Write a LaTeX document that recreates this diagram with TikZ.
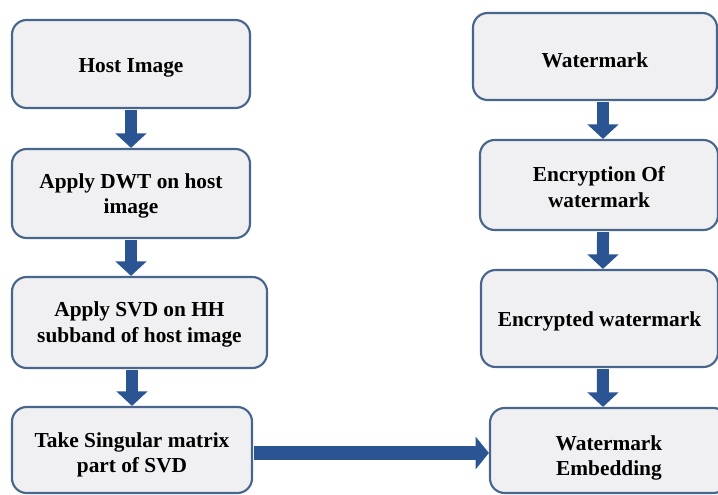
\documentclass[tikz,border=0pt]{standalone}
\usepackage{fontspec}
\setmainfont{Liberation Serif}
\usetikzlibrary{arrows.meta}
\definecolor{boxfill}{HTML}{F0F0F2}
\definecolor{boxline}{HTML}{48658C}
\definecolor{flow}{HTML}{2A5592}
\tikzset{
  stepbox/.style={draw=boxline, line width=1.6pt, fill=boxfill, rounded corners=11pt,
    inner sep=0pt},
  steptext/.style={align=center, inner sep=0pt,
    font=\fontsize{16}{19}\selectfont\bfseries},
  varrow/.style={draw=flow, line width=9pt,
    -{Triangle[width=23pt, length=11pt]}, shorten <=0.8pt},
  harrow/.style={draw=flow, line width=10pt,
    -{Triangle[width=24pt, length=10pt]}, shorten <=0.8pt}
}
\begin{document}
\begin{tikzpicture}[x=0.75pt, y=-0.75pt]
  \useasboundingbox (0,0) rectangle (718,495);

  % left column: host image processing
  \node[stepbox, minimum width=178.5pt, minimum height=66pt] (host) at (131,64) {};
  \node[stepbox, minimum width=178.5pt, minimum height=66.75pt] (dwt) at (131,193.5) {};
  \node[stepbox, minimum width=191.25pt, minimum height=68.25pt] (svd) at (139.5,322.5) {};
  \node[stepbox, minimum width=180pt, minimum height=64.5pt] (take) at (132,450) {};

  \node[steptext] (hostT) at ([yshift=-3pt]host.center) {Host Image};
  \node[steptext] (dwtT) at ([yshift=-2pt]dwt.center) {Apply DWT on host\\image};
  \node[steptext] (svdT) at ([yshift=-1.5pt]svd.center) {Apply SVD on HH\\subband of host image};
  \node[steptext] (takeT) at ([yshift=-3.5pt]take.center) {Take Singular matrix\\part of SVD};

  % right column: watermark processing
  \node[stepbox, minimum width=183pt, minimum height=65.25pt] (wm) at (595,56.5) {};
  \node[stepbox, minimum width=178.5pt, minimum height=67.5pt] (enc) at (599,185) {};
  \node[stepbox, minimum width=177.75pt, minimum height=72.75pt] (encd) at (599.5,318.5) {};
  \node[stepbox, minimum width=178.5pt, minimum height=63.75pt] (emb) at (609,450.5) {};

  \node[steptext] (wmT) at ([yshift=-3pt]wm.center) {Watermark};
  \node[steptext] (encT) at ([yshift=-1.5pt]enc.center) {Encryption Of\\watermark};
  \node[steptext] (encdT) at ([yshift=-2pt]encd.center) {Encrypted watermark};
  \node[steptext] (embT) at ([yshift=-5.5pt]emb.center) {Watermark\\Embedding};

  % flow arrows, left column
  \draw[varrow] (host.south) -- (host.south |- dwt.north);
  \draw[varrow] (dwt.south) -- (dwt.south |- svd.north);
  \draw[varrow] (take.north |- svd.south) -- (take.north);

  % flow arrows, right column
  \draw[varrow] ([xshift=6pt]wm.south) -- ([xshift=3pt]enc.north);
  \draw[varrow] ([xshift=3pt]enc.south) -- ([xshift=2.6pt]encd.north);
  \draw[varrow] ([xshift=2.6pt]encd.south) -- ([xshift=-4.5pt]emb.north);

  % singular values into the embedding step
  \draw[harrow] ([yshift=-2.25pt]take.east) -- ([yshift=-2.25pt]take.east -| emb.west);
\end{tikzpicture}
\end{document}
